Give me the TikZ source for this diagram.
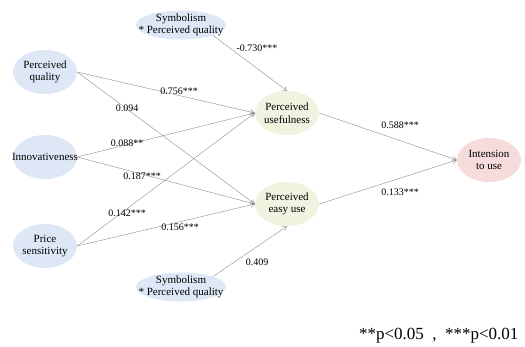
\documentclass[tikz,border=0pt]{standalone}
\usepackage{fontspec}
\setmainfont{Liberation Serif}
\usepackage{xcolor}
\usepackage{tikz}
\usetikzlibrary{shapes.geometric,arrows.meta}

\definecolor{blueell}{HTML}{DEE7F5}
\definecolor{greenell}{HTML}{EEF4E0}
\definecolor{pinkell}{HTML}{F6DCDC}
\definecolor{linegray}{HTML}{8C8C8C}

\tikzset{
  var/.style={ellipse, inner xsep=-5pt, inner ysep=0pt, minimum width=64, minimum height=44,
    align=center, font=\fontsize{11}{12.5}\selectfont},
  moder/.style={var, inner xsep=-11pt, inner ysep=-2.5pt, minimum width=90, minimum height=29,
    fill=blueell},
  coef/.style={font=\fontsize{10}{11}\selectfont, inner sep=1pt}
}

\begin{document}
\begin{tikzpicture}[x=1pt, y=-1pt, >={Straight Barb[length=4pt,width=5pt]}]
		\useasboundingbox (0,0) rectangle (525,346);
		% Nodes
		\node[var, fill=blueell] (quality) at (45,72) {Perceived\\quality};
		\node[var, fill=blueell, inner xsep=-12pt] (innov) at (45,157) {Innovativeness};
		\node[var, fill=blueell] (price) at (45,246) {Price\\sensitivity};
		\node[moder] (symtop) at (181,25) {Symbolism\\* Perceived quality};
		\node[moder] (symbot) at (181,287) {Symbolism\\* Perceived quality};
		\node[var, fill=greenell] (useful) at (287,113) {Perceived\\usefulness};
		\node[var, fill=greenell] (easy) at (287,204) {Perceived\\easy use};
		\node[var, fill=pinkell] (intent) at (489,160) {Intension\\to use};
		
		% Arrows
		\begin{scope}[draw=linegray, line width=0.4pt]
		\draw[->] (quality.east) -- (useful.west);
		\draw[->] (quality.east) -- (easy.west);
		\draw[->] (innov.east) -- (useful.west);
		\draw[->] (innov.east) -- (easy.west);
		\draw[->] (price.east) -- (useful.west);
		\draw[->] (price.east) -- (easy.west);
		\draw[->] (symtop.south east) -- (useful.north);
		\draw[->] (symbot.north east) -- (easy.south);
		\draw[->] (useful.east) -- (intent.west);
		\draw[->] (easy.east) -- (intent.west);
		\end{scope}
		
		% Labels
		\node[coef] (c1) at (179,91) {0.756***};
		\node[coef] (c2) at (127,108) {0.094};
		\node[coef] (c3) at (127,143) {0.088**};
		\node[coef] (c4) at (142,176) {0.187***};
		\node[coef] (c5) at (127,213) {0.142***};
		\node[coef] (c6) at (180,227) {0.156***};
		\node[coef] (c7) at (257,48) {-0.730***};
		\node[coef] (c8) at (257,262) {0.409};
		\node[coef] (c9) at (400,125) {0.588***};
		\node[coef] (c10) at (400,192) {0.133***};
		\node[font=\fontsize{17}{18}\selectfont, anchor=east] (note) at (522,336) {**p<0.05\ \ ,\ \ ***p<0.01};
		
	\end{tikzpicture}
\end{document}
